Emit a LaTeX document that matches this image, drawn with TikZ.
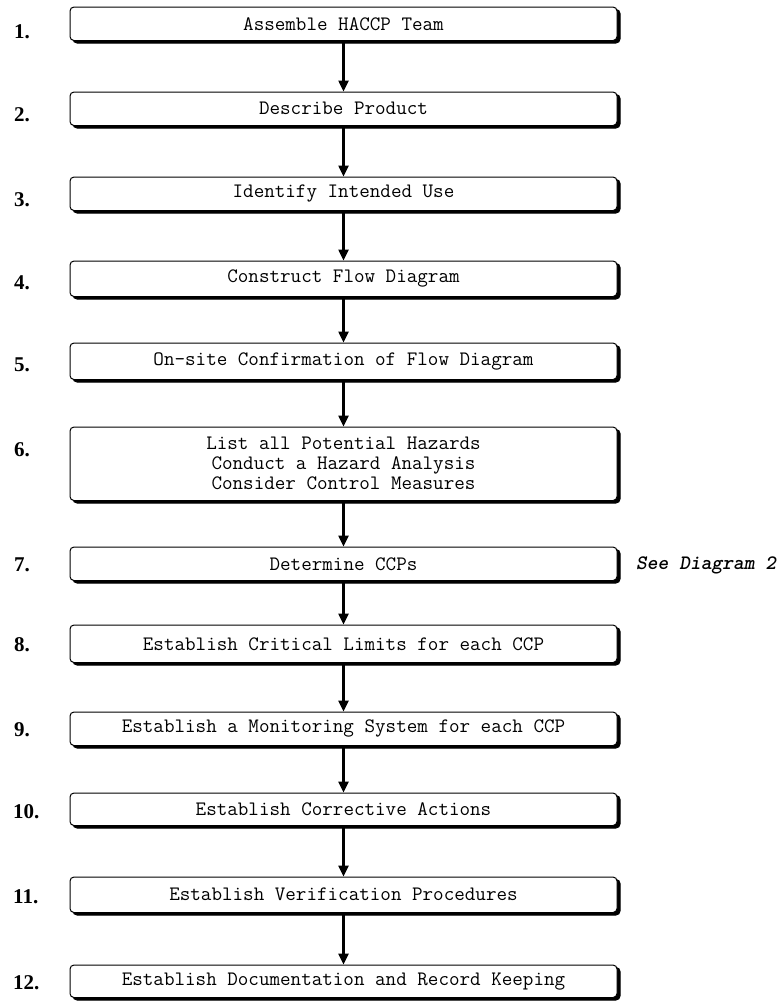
\documentclass[tikz,border=0pt]{standalone}
\usepackage{fontspec}
\newfontfamily\numfont{Liberation Serif}
\usetikzlibrary{shadows,arrows.meta}
\begin{document}
\begin{tikzpicture}[x=1pt,y=-1pt,
  stepbox/.style={draw=black, line width=1pt, fill=white, rounded corners=4pt,
    minimum width=547pt, inner sep=0pt, align=center,
    font=\ttfamily\fontsize{20.5}{20}\selectfont,
    copy shadow={shadow xshift=3pt, shadow yshift=-2.5pt, fill=black, draw=black}},
  numlabel/.style={anchor=west, inner sep=0pt, font=\numfont\bfseries\fontsize{21}{22}\selectfont},
  flow/.style={line width=2.4pt, -{Triangle[length=11pt,width=10pt]}},
  note/.style={anchor=west, inner sep=0pt, font=\ttfamily\bfseries\itshape\fontsize{20.5}{20}\selectfont}
]
\useasboundingbox (0,0) rectangle (784,1005);

\node[stepbox, minimum height=33.5pt] (s1) at (343.5,23.75) {Assemble HACCP Team};
\node[stepbox, minimum height=33.5pt] (s2) at (343.5,108.75) {Describe Product};
\node[stepbox, minimum height=33.5pt] (s3) at (343.5,193.75) {Identify Intended Use};
\node[stepbox, minimum height=35.5pt] (s4) at (343.5,278.75) {Construct Flow Diagram};
\node[stepbox, minimum height=36.5pt] (s5) at (343.5,361.25) {On-site Confirmation of Flow Diagram};
\node[stepbox, minimum height=73.5pt] (s6) at (343.5,463.75) {List all Potential Hazards\\Conduct a Hazard Analysis\\Consider Control Measures};
\node[stepbox, minimum height=33.5pt] (s7) at (343.5,563.75) {Determine CCPs};
\node[stepbox, minimum height=37.5pt] (s8) at (343.5,643.75) {Establish Critical Limits for each CCP};
\node[stepbox, minimum height=33.5pt] (s9) at (343.5,728.75) {Establish a Monitoring System for each CCP};
\node[stepbox, minimum height=32.5pt] (s10) at (343.5,809.25) {Establish Corrective Actions};
\node[stepbox, minimum height=35.5pt] (s11) at (343.5,894.75) {Establish Verification Procedures};
\node[stepbox, minimum height=32.5pt] (s12) at (343.5,981.25) {Establish Documentation and Record Keeping};

\node[numlabel] (n1) at (14,32) {1.};
\node[numlabel] (n2) at (14,115) {2.};
\node[numlabel] (n3) at (14,200) {3.};
\node[numlabel] (n4) at (14,283) {4.};
\node[numlabel] (n5) at (14,365) {5.};
\node[numlabel] (n6) at (14,450) {6.};
\node[numlabel] (n7) at (14,565) {7.};
\node[numlabel] (n8) at (14,645) {8.};
\node[numlabel] (n9) at (14,730) {9.};
\node[numlabel] (n10) at (13,812) {10.};
\node[numlabel] (n11) at (13,897) {11.};
\node[numlabel] (n12) at (13,983) {12.};

\node[note] (see) at (636,565) {See Diagram 2};

\foreach \a/\b in {s1/s2,s2/s3,s3/s4,s4/s5,s5/s6,s6/s7,s7/s8,s8/s9,s9/s10,s10/s11,s11/s12}
  \draw[flow] (\a.south) -- (\b.north);
\end{tikzpicture}
\end{document}
